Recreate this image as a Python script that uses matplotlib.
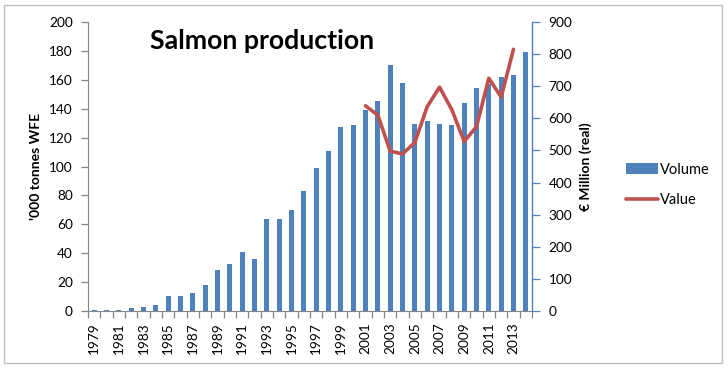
import numpy as np
import matplotlib
matplotlib.use("Agg")
import matplotlib.pyplot as plt
from matplotlib.patches import Rectangle

plt.rcParams['font.family'] = ['Lato', 'DejaVu Sans']

years = list(range(1979, 2015))
volume = [0.5, 0.5, 0.9, 2, 2.5, 4, 10.4, 10.4, 12.5, 18, 28.4, 32.3, 40.6, 36,
          64, 64, 70, 83, 99, 111, 127, 129, 139, 145, 170, 158, 129.5, 131.7,
          129.5, 128.5, 144.2, 154.1, 157, 162.2, 163, 179]
value = [np.nan] * 22 + [639, 610, 498, 489, 525, 636, 697, 627, 528, 574, 725, 666, 815, np.nan]
tick_labels = [str(y) for y in years[::2]]

BLUE = '#4F81BD'
RED = '#C0504D'
GREY = '#868686'

fig = plt.figure(figsize=(7.28, 3.73), dpi=100)
W, H = 728, 373
ax = fig.add_axes([88 / W, 1 - 311 / H, (532 - 88) / W, (311 - 22) / H])
ax2 = ax.twinx()

x = np.arange(len(years))
bars = ax.bar(x, volume, width=0.42, color=BLUE, label='Volume', zorder=2)
line, = ax2.plot(x, value, color=RED, lw=2.6, label='Value', solid_capstyle='round', zorder=3)

ax.set_xlim(-0.5, len(years) - 0.5)
ax.set_ylim(0, 200)
ax.set_yticks(np.arange(0, 201, 20))
ax2.set_ylim(0, 900)
ax2.set_yticks(np.arange(0, 901, 100))

ax.set_xticks(x[::2])
ax.set_xticklabels(tick_labels, rotation=90)
ax.set_xticks(np.arange(-0.5, len(years), 1), minor=True)
ax.tick_params(axis='x', which='major', length=0, pad=8, labelsize=9.8)
ax.tick_params(axis='x', which='minor', length=5, color=GREY, width=0.9)
ax.tick_params(axis='y', length=5, color=GREY, width=0.9, pad=6, labelsize=9.8)
ax2.tick_params(axis='y', length=6, color=BLUE, width=0.9, pad=6, labelsize=9.8)

for s in ['top', 'right']:
    ax.spines[s].set_visible(False)
ax.spines['left'].set_color(GREY)
ax.spines['bottom'].set_color(GREY)
for s in ['top', 'left', 'bottom']:
    ax2.spines[s].set_visible(False)
ax2.spines['right'].set_color(BLUE)
ax2.spines['right'].set_linewidth(1.0)

ax.set_ylabel("'000 tonnes WFE", fontsize=10, fontweight='bold', labelpad=5)
ax2.set_ylabel("€ Million (real)", fontsize=10, fontweight='bold', labelpad=5)

fig.text(150 / W, 1 - 49 / H, "Salmon production", fontsize=19.3, fontweight='bold',
         ha='left', va='baseline')

fig.legend(handles=[bars, line], labels=['Volume', 'Value'],
           loc='center left', bbox_to_anchor=(620 / W, 1 - 185 / H),
           frameon=False, fontsize=10.5, handlelength=2.2, handletextpad=0.15,
           labelspacing=1.15, borderaxespad=0)

fig.add_artist(Rectangle((4 / W, 1 - 363 / H), (722 - 4) / W, (363 - 5) / H,
                         transform=fig.transFigure, fill=False,
                         edgecolor='#BFBFBF', lw=1.0))

fig.savefig('out.png', dpi=100)
